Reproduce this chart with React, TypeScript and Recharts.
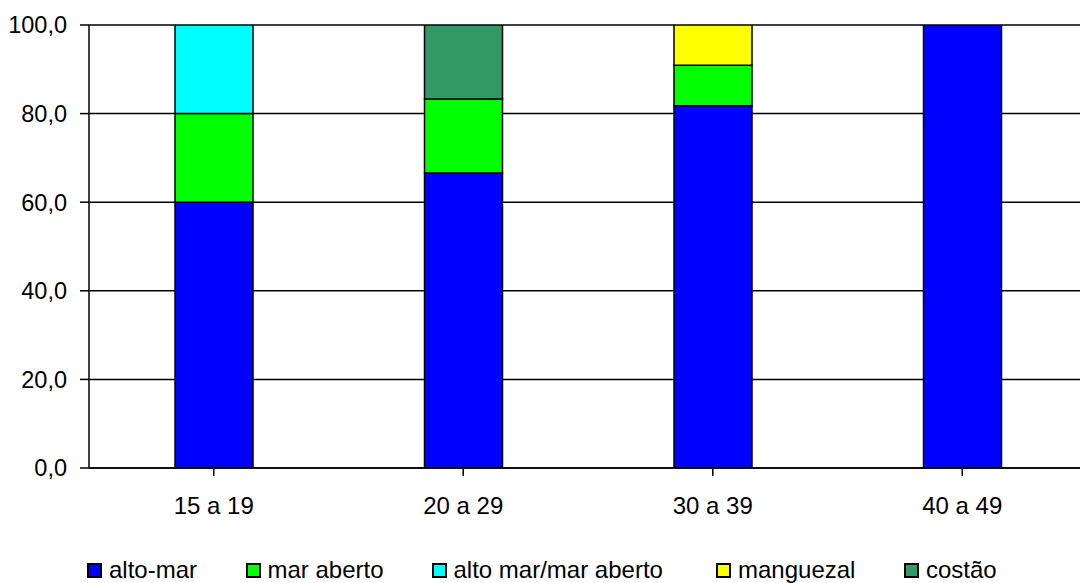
import React from 'react';
import { BarChart, Bar, XAxis, YAxis, CartesianGrid } from 'recharts';

const categories = ['15 a 19', '20 a 29', '30 a 39', '40 a 49'];
const altoMar = [60, 66.6, 81.8, 100];
const marAberto = [20, 16.7, 9.1, 0];
const altoMarMarAberto = [20, 0, 0, 0];
const manguezal = [0, 0, 9.1, 0];
const costao = [0, 16.7, 0, 0];
const yTicks = [0, 20, 40, 60, 80, 100];

const seriesNames = ['alto-mar', 'mar aberto', 'alto mar/mar aberto', 'manguezal', 'costão'];
const seriesColors = ['#0000FF', '#00FF00', '#00FFFF', '#FFFF00', '#339966'];
const seriesKeys = ['altoMar', 'marAberto', 'altoMarMarAberto', 'manguezal', 'costao'];

const data = categories.map((c, i) => ({
  cat: c,
  altoMar: altoMar[i],
  marAberto: marAberto[i],
  altoMarMarAberto: altoMarMarAberto[i],
  manguezal: manguezal[i],
  costao: costao[i],
}));

const FONT = '"Liberation Sans", Arial, sans-serif';
const legendLefts = [87, 245.5, 431.5, 716, 904];

export default function App() {
  return (
    <div
      style={{
        position: 'absolute',
        left: 0,
        top: 0,
        width: 1080,
        height: 583,
        overflow: 'hidden',
        background: '#fff',
        fontFamily: FONT,
      }}
    >
      <BarChart
        width={1087}
        height={583}
        data={data}
        margin={{ top: 25, right: 0, left: 0, bottom: 0 }}
        barSize={78}
      >
        <CartesianGrid vertical={false} stroke="#000" strokeWidth={1.5} />
        <XAxis
          dataKey="cat"
          height={115}
          axisLine={{ stroke: '#000', strokeWidth: 1.5 }}
          tickLine={{ stroke: '#000', strokeWidth: 1.5 }}
          tickSize={8}
          tickMargin={21}
          tick={{ fill: '#000', fontSize: 24, fontFamily: FONT }}
          interval={0}
        />
        <YAxis
          width={89}
          domain={[0, 100]}
          ticks={yTicks}
          allowDataOverflow
          axisLine={{ stroke: '#000', strokeWidth: 1.5 }}
          tickLine={{ stroke: '#000', strokeWidth: 1.5 }}
          tickSize={9}
          tickMargin={13}
          tick={{ fill: '#000', fontSize: 23.5, fontFamily: FONT }}
          tickFormatter={(v: number) => v.toFixed(1).replace('.', ',')}
        />
        {seriesKeys.map((k, i) => (
          <Bar
            key={k}
            dataKey={k}
            name={seriesNames[i]}
            stackId="a"
            fill={seriesColors[i]}
            stroke="#000"
            strokeWidth={1.5}
            isAnimationActive={false}
          />
        ))}
      </BarChart>
      {seriesNames.map((n, i) => (
        <div
          key={n}
          style={{
            position: 'absolute',
            left: legendLefts[i],
            top: 558,
            height: 24,
            display: 'flex',
            alignItems: 'center',
            fontSize: 24,
            lineHeight: '24px',
            color: '#000',
            whiteSpace: 'nowrap',
          }}
        >
          <span
            style={{
              display: 'inline-block',
              width: 15,
              height: 15,
              boxSizing: 'border-box',
              border: '2px solid #000',
              background: seriesColors[i],
              marginRight: 7,
            }}
          />
          <span>{n}</span>
        </div>
      ))}
    </div>
  );
}
